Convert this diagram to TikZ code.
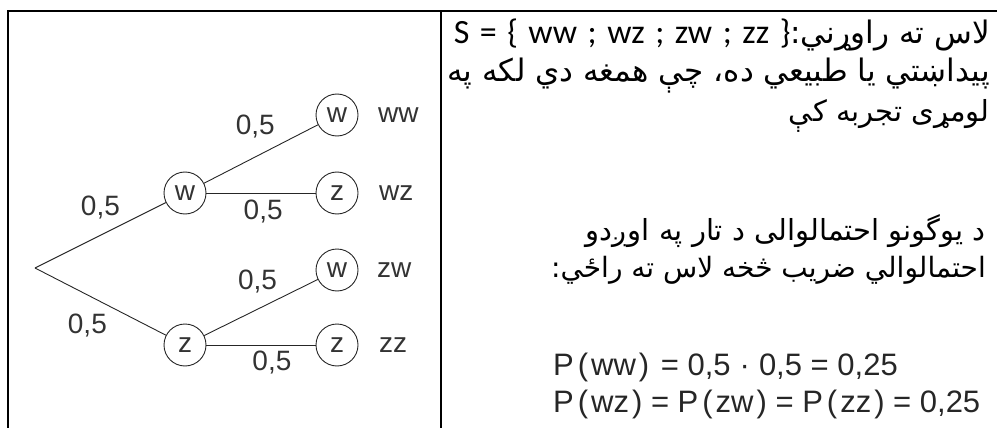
\documentclass[tikz,border=0pt]{standalone}
\usepackage{fontspec}
\setmainfont{Liberation Sans}
\newfontfamily\arabicfont[Script=Arabic]{DejaVu Sans}
\newfontfamily\calfont{Carlito}
\TeXXeTstate=1
\newcommand\mygap{\hspace{10.5pt}}
\begin{document}
\begin{tikzpicture}[x=1pt,y=-1pt,
  tnode/.style={circle, draw=black!85, line width=0.9pt, minimum size=42pt, inner sep=0pt, font=\fontsize{28}{28}\selectfont, text=black!80},
  lbl/.style={font=\fontsize{28}{28}\selectfont, text=black!80, inner sep=0pt},
  tedge/.style={draw=black!85, line width=0.9pt},
  frameline/.style={line width=2pt},
  artxt/.style={anchor=east, inner sep=0pt},
  ftxt/.style={anchor=west, inner sep=0pt, font=\fontsize{31}{31}\selectfont, text=black!85}]
\useasboundingbox (0,0) rectangle (997,428);
\draw[frameline] (7.5,428) -- (7.5,11.5) -- (997,11.5);
\draw[frameline] (441,11.5) -- (441,428);
% tree
\coordinate (root) at (35,268);
\node[tnode] (w1) at (185,193) {w};
\node[tnode] (z1) at (185,345) {z};
\node[tnode] (ww) at (337,115) {w};
\node[tnode] (wz) at (337,193) {z};
\node[tnode] (zw) at (337,270) {w};
\node[tnode] (zz) at (337,345) {z};
\node[lbl, anchor=west] (lww) at (378,115) {ww};
\node[lbl, anchor=west] (lwz) at (379,193) {wz};
\node[lbl, anchor=west] (lzw) at (377,270) {zw};
\node[lbl, anchor=west] (lzz) at (379,345) {zz};
\draw[tedge] (root) -- node[lbl, pos=0.5, yshift=28pt] (e1) {0,5} (w1);
\draw[tedge] (root) -- node[lbl, pos=0.4, yshift=-31pt] (e2) {0,5} (z1);
\draw[tedge] (w1) -- node[lbl, pos=0.45, yshift=30pt] (e3) {0,5} (ww);
\draw[tedge] (w1) -- node[lbl, pos=0.52, yshift=-19pt] (e4) {0,5} (wz);
\draw[tedge] (z1) -- node[lbl, pos=0.47, yshift=28pt] (e5) {0,5} (zw);
\draw[tedge] (z1) -- node[lbl, pos=0.6, yshift=-18pt] (e6) {0,5} (zz);
% text
\node[artxt] (t1) at (990,35) {{\fontsize{34}{36}\calfont S\mygap=\mygap\{\mygap ww\mygap;\mygap wz\mygap;\mygap zw\mygap;\mygap zz\mygap\}}{\fontsize{31}{34}\arabicfont\beginR لاس ته راوړني:\endR}};
\node[artxt] (t2) at (990,76) {\fontsize{31}{34}\arabicfont\beginR پيداښتي يا طبيعي ده، چې همغه دي لکه په\endR};
\node[artxt] (t3) at (990,116) {\fontsize{29}{32}\arabicfont\beginR لومړی تجربه کې\endR};
\node[artxt] (t4) at (986,231) {\fontsize{29}{32}\arabicfont\beginR د يوگونو احتمالوالى د تار په اوږدو\endR};
\node[artxt] (t5) at (986,270) {\fontsize{28}{32}\arabicfont\beginR احتمالوالي ضريب  څخه لاس ته راځي:\endR};
\node[ftxt] (f1) at (553,367) {P\hspace{4pt}(\hspace{3pt}ww\hspace{3pt})\hspace{3pt} = 0,5\hspace{9pt}·\hspace{9pt}0,5 = 0,25};
\node[ftxt] (f2) at (553,404) {P\hspace{4pt}(\hspace{3pt}wz\hspace{3pt}) = P\hspace{4pt}(\hspace{3pt}zw\hspace{3pt}) = P\hspace{4pt}(\hspace{3pt}zz\hspace{3pt}) = 0,25};
\end{tikzpicture}
\end{document}
